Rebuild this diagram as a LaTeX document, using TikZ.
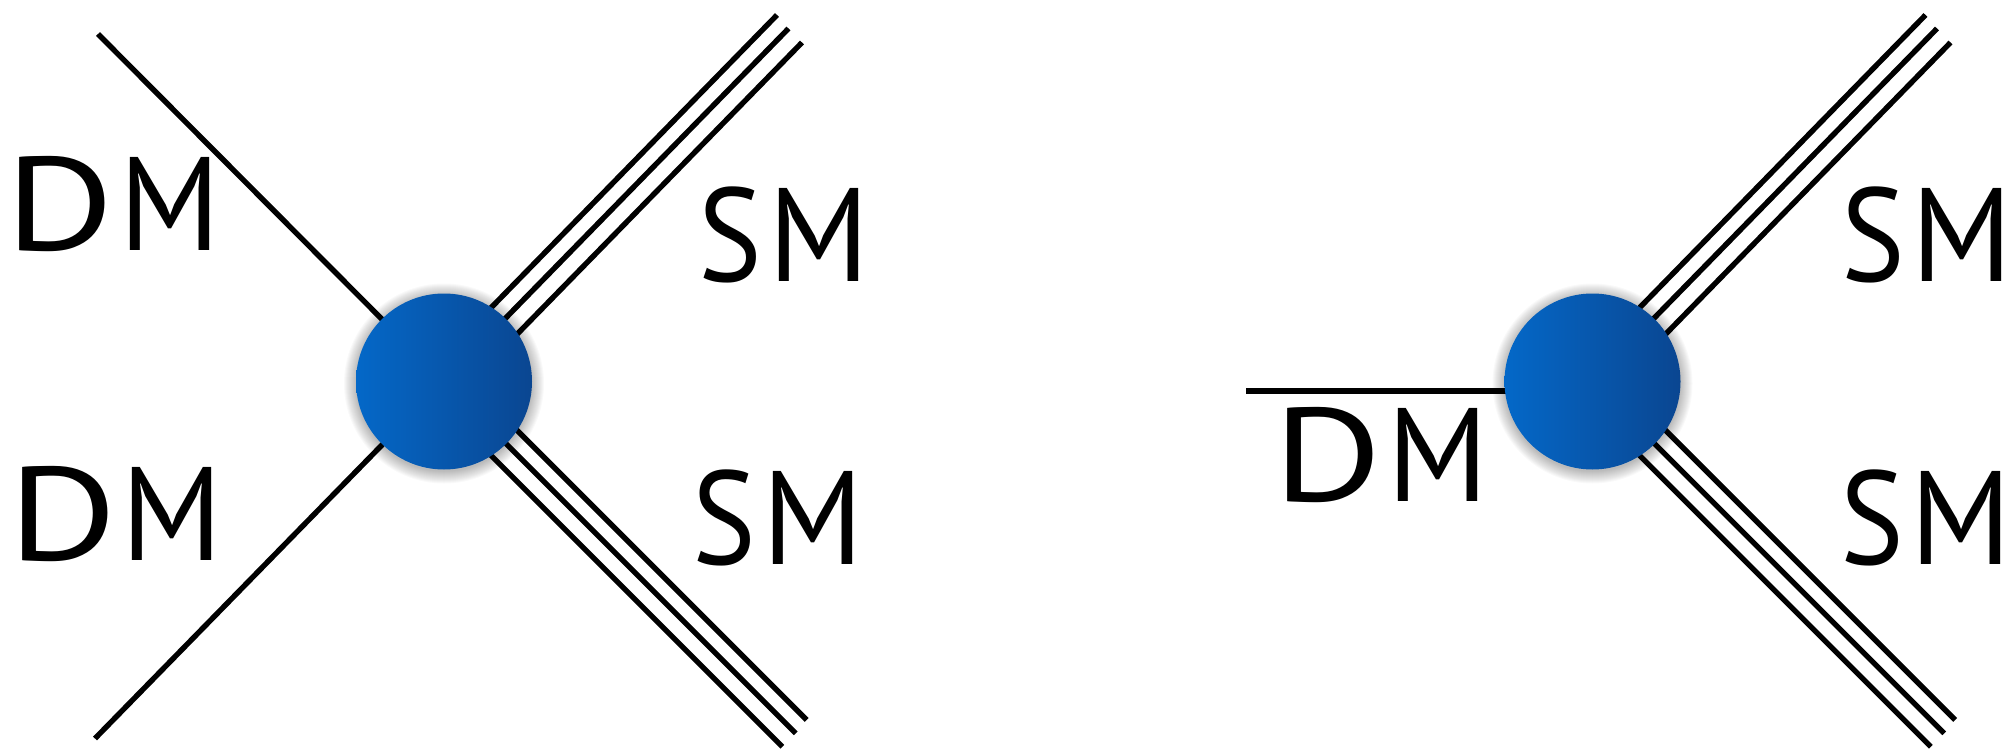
\documentclass[tikz,border=0pt]{standalone}
\usepackage{graphicx}
\usepackage{fontspec}
\setmainfont{PT Sans}
\usetikzlibrary{calc}
\definecolor{blobL}{RGB}{4,104,200}
\definecolor{blobR}{RGB}{10,70,145}
\newcommand\lblDM{\scalebox{1.25}[1]{D}\kern5pt\scalebox{0.96}[1]{M}}
\newcommand\lblSM{\scalebox{0.9}[1]{S}\kern6pt\scalebox{0.96}[1]{M}}
\tikzset{
  leg/.style={line width=5.4pt, black},
  blob/.style={circle, minimum size=176pt, inner sep=0pt, shading=axis, left color=blobL, right color=blobR},
  lbl/.style={inner sep=0pt, font=\fontsize{133}{133}\selectfont}
}
\begin{document}
\begin{tikzpicture}[x=1pt,y=-1pt]
\useasboundingbox (0,0) rectangle (2011,749);
% ---------- left diagram ----------
\coordinate (b1) at (444,381.5);
\coordinate (dmA) at (98,34);
\coordinate (dmB) at (95,738.5);
\coordinate (t1a) at (777,15);
\coordinate (t1b) at (788.5,28.5);
\coordinate (t1c) at (802,42.5);
\coordinate (u1a) at (806.7,720);
\coordinate (u1b) at (795.7,733.3);
\coordinate (u1c) at (782.3,746.7);
\draw[leg] (dmA) -- (b1);
\draw[leg] (dmB) -- (b1);
\foreach \p in {t1a,t1b,t1c} \draw[leg] (\p) -- ($(\p)+(-344.3,352.5)$);
\foreach \p in {u1a,u1b,u1c} \draw[leg] (\p) -- ($(\p)+(-352,-352)$);
% ---------- right diagram ----------
\coordinate (b2) at (1592.5,381.5);
\coordinate (dmC) at (1246,391);
\coordinate (t2a) at (1925.5,15);
\coordinate (t2b) at (1937,28.5);
\coordinate (t2c) at (1950.5,42.5);
\coordinate (u2a) at (1955.2,720);
\coordinate (u2b) at (1944.2,733.3);
\coordinate (u2c) at (1930.8,746.7);
\draw[leg] (dmC) -- ($(b2)+(0,9.5)$);
\foreach \p in {t2a,t2b,t2c} \draw[leg] (\p) -- ($(\p)+(-344.3,352.5)$);
\foreach \p in {u2a,u2b,u2c} \draw[leg] (\p) -- ($(\p)+(-352,-352)$);
% ---------- shadows and blobs ----------
\foreach \c in {b1,b2}{
  \foreach \r in {1,...,13}{
    \fill[black,opacity=0.024] ($(\c)+(0,2)$) circle (87+\r);
  }
}
\node[blob] (n1) at (b1) {};
\node[blob] (n2) at (b2) {};
% ---------- labels ----------
\node[lbl] (l1) at (113,204) {\lblDM};
\node[lbl] (l2) at (115.5,514) {\lblDM};
\node[lbl] (l3) at (784,235) {\lblSM};
\node[lbl] (l4) at (778,518) {\lblSM};
\node[lbl] (l5) at (1381,455) {\lblDM};
\node[lbl] (l6) at (1927,235) {\lblSM};
\node[lbl] (l7) at (1926,518) {\lblSM};
\end{tikzpicture}
\end{document}
